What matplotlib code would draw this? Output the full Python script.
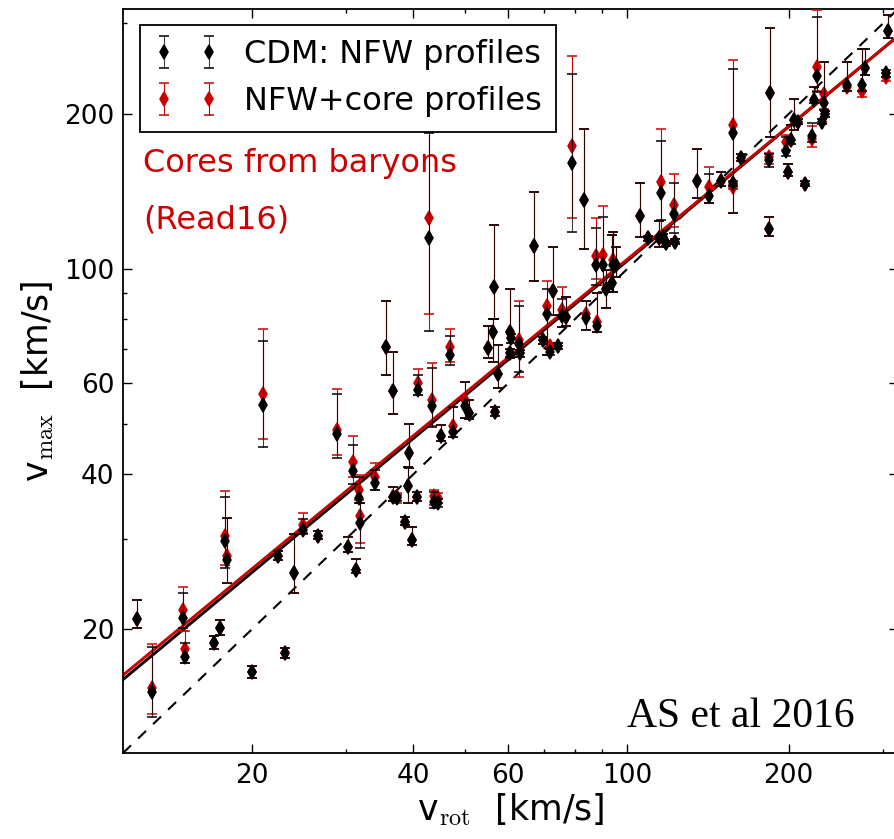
import numpy as np
import matplotlib
matplotlib.use('Agg')
import matplotlib.pyplot as plt
from matplotlib.ticker import FixedLocator, FixedFormatter, NullFormatter

plt.rcParams['font.family'] = ['DejaVu Sans']
plt.rcParams['mathtext.fontset'] = 'cm'

# ---------------- data ----------------
v_rot = [12.2, 13.0, 14.9, 15.0, 17.0, 17.4, 17.8, 18.0, 20.0, 21.0,
         22.4, 23.0, 24.0, 24.9, 26.5, 28.8, 30.2, 30.8, 31.2, 31.6,
         31.8, 33.9, 35.6, 36.7, 36.7, 37.2, 38.5, 39.1, 39.2, 39.7,
         40.6, 40.8, 42.7, 43.4, 43.7, 44.4, 45.1, 46.8, 47.4, 49.9,
         50.8, 56.6, 56.3, 55.1, 56.7, 57.5, 60.5, 60.7, 60.6, 62.9,
         63.1, 67.0, 69.7, 70.8, 71.8, 72.8, 74.4, 75.5, 76.9, 79.0,
         83.0, 83.8, 87.9, 87.7, 90.2, 91.5, 93.9, 94.2, 95.2, 105.8,
         109.4, 114.8, 115.8, 116.5, 118.4, 122.1, 122.7, 135.0, 142.1, 149.4,
         157.3, 157.3, 163.3, 183.6, 184.4, 184.0, 198.0, 199.4, 202.3, 204.4,
         208.2, 214.3, 221.6, 223.0, 226.5, 230.8, 233.4, 234.4, 256.8, 274.4,
         277.7, 303.3, 306.2]

vmax_cdm = [20.9, 15.1, 21.0, 17.7, 18.8, 20.1, 29.7, 27.3, 16.5, 54.6,
            27.8, 18.0, 25.7, 31.1, 30.4, 47.8, 28.9, 40.5, 26.1, 35.9,
            32.1, 38.5, 70.7, 58.0, 36.1, 35.9, 32.3, 38.0, 44.0, 29.8,
            36.1, 58.2, 114.7, 54.2, 35.3, 35.1, 47.4, 68.1, 48.3, 54.2,
            52.5, 92.2, 75.6, 70.3, 52.8, 62.5, 75.6, 73.4, 68.7, 71.7,
            68.6, 110.7, 72.8, 82.0, 69.0, 90.9, 70.9, 81.2, 80.8, 161.1,
            136.5, 80.3, 77.6, 101.8, 101.8, 91.7, 93.8, 101.8, 101.8, 127.0,
            114.7, 114.7, 140.3, 115.6, 112.2, 127.9, 113.0, 148.2, 138.8, 148.4,
            183.5, 146.7, 164.4, 162.8, 219.5, 119.6, 169.5, 154.5, 178.0, 194.7,
            193.2, 146.6, 181.5, 213.0, 237.1, 193.4, 209.8, 199.7, 228.2, 228.3,
            245.4, 239.9, 289.9]

cdm_lo = [20.1, 13.5, 20.1, 17.2, 18.3, 19.5, 26.3, 24.6, 16.1, 45.2,
          27.2, 17.6, 23.5, 30.6, 29.9, 43.0, 28.3, 38.2, 25.7, 35.1,
          28.7, 37.2, 62.2, 52.3, 35.5, 35.4, 31.8, 35.2, 41.2, 29.1,
          35.5, 56.9, 75.8, 49.4, 34.4, 34.5, 46.3, 65.1, 47.2, 51.3,
          51.2, 80.0, 66.1, 67.1, 51.8, 58.9, 67.2, 72.0, 67.5, 63.2,
          67.5, 95.0, 71.5, 68.1, 68.0, 81.4, 70.0, 77.3, 77.5, 118.2,
          109.2, 76.1, 75.6, 93.1, 90.4, 83.9, 90.4, 90.4, 96.6, 115.6,
          113.5, 110.5, 124.5, 114.5, 111.0, 117.6, 112.0, 137.2, 134.2, 144.9,
          128.6, 145.0, 162.5, 158.0, 180.7, 116.0, 166.0, 152.0, 175.0, 186.2,
          191.0, 145.0, 176.2, 209.8, 220.6, 191.0, 203.6, 197.0, 221.6, 222.0,
          237.7, 236.0, 280.6]

cdm_hi = [22.8, 18.5, 23.5, 18.8, 19.4, 20.8, 36.1, 32.9, 17.0, 72.6,
          28.4, 18.4, 30.6, 32.8, 31.0, 57.2, 30.2, 45.5, 27.4, 39.5,
          35.2, 40.7, 86.7, 69.2, 37.8, 36.5, 33.0, 41.3, 50.0, 31.6,
          36.9, 62.2, 183.7, 64.2, 36.9, 35.8, 49.8, 74.1, 54.0, 60.3,
          55.7, 121.7, 80.0, 77.5, 54.0, 71.4, 91.7, 75.0, 70.0, 84.8,
          69.8, 141.3, 74.0, 91.7, 70.0, 110.2, 72.0, 87.4, 88.4, 239.8,
          186.8, 86.8, 89.8, 120.0, 126.4, 99.6, 116.4, 118.2, 110.5, 147.2,
          116.0, 124.1, 177.5, 117.0, 113.5, 146.7, 114.3, 171.0, 152.9, 154.5,
          244.2, 148.5, 167.0, 167.0, 294.4, 126.2, 180.7, 159.7, 190.4, 213.9,
          195.5, 148.5, 192.1, 226.0, 309.0, 196.0, 252.0, 202.5, 252.0, 267.2,
          267.2, 244.0, 311.4]

vmax_core = [20.9, 15.4, 21.8, 18.3, 18.8, 20.1, 30.4, 27.7, 16.5, 57.2,
             27.8, 18.0, 25.7, 31.9, 30.4, 48.8, 28.9, 42.3, 26.1, 37.2,
             33.2, 39.5, 70.7, 58.0, 36.1, 36.1, 32.3, 38.0, 44.0, 29.8,
             36.1, 60.0, 125.5, 55.7, 36.2, 36.0, 47.4, 70.7, 49.6, 55.7,
             52.5, 92.2, 75.6, 70.3, 52.8, 62.5, 75.6, 73.4, 68.7, 72.8,
             68.6, 110.7, 72.8, 84.8, 71.0, 90.9, 70.9, 83.3, 80.8, 173.6,
             136.5, 82.0, 79.0, 106.0, 106.5, 91.7, 93.8, 104.3, 101.8, 127.0,
             114.7, 114.7, 147.4, 115.6, 112.2, 133.1, 113.0, 148.2, 144.1, 148.4,
             190.4, 144.5, 164.4, 165.3, 219.5, 119.6, 176.2, 154.5, 178.0, 194.7,
             193.2, 146.6, 179.0, 213.0, 247.2, 193.4, 218.4, 199.7, 226.0, 221.6,
             245.4, 236.0, 289.9]

core_lo = [20.1, 13.7, 19.8, 17.2, 18.3, 19.5, 26.7, 24.6, 16.1, 46.8,
           27.2, 17.6, 23.5, 30.8, 29.9, 43.5, 28.3, 39.5, 25.7, 35.6,
           29.4, 37.2, 62.2, 52.3, 35.5, 35.2, 31.8, 35.2, 41.2, 29.1,
           35.5, 56.9, 82.0, 49.6, 34.8, 35.2, 46.3, 65.9, 47.2, 51.3,
           51.2, 80.0, 66.1, 67.1, 51.8, 58.9, 67.2, 72.0, 67.5, 61.8,
           67.5, 95.0, 71.5, 68.1, 70.0, 81.4, 70.0, 77.3, 77.5, 125.5,
           109.2, 76.1, 75.6, 95.5, 93.1, 83.9, 90.4, 90.4, 96.6, 115.6,
           113.5, 110.5, 115.6, 114.5, 111.0, 120.8, 112.0, 137.2, 134.2, 144.9,
           128.6, 143.0, 162.5, 160.0, 180.7, 116.0, 170.0, 152.0, 175.0, 186.2,
           191.0, 145.0, 173.0, 209.8, 222.0, 191.0, 205.0, 197.0, 221.6, 216.0,
           237.7, 232.0, 280.6]

core_hi = [22.8, 18.7, 24.2, 19.8, 19.4, 20.8, 37.1, 32.9, 17.0, 76.4,
           28.4, 18.4, 30.6, 33.6, 31.0, 58.4, 30.2, 47.4, 27.4, 39.8,
           35.2, 42.0, 86.7, 69.2, 37.8, 36.8, 33.0, 41.3, 50.0, 31.6,
           36.9, 63.9, 186.0, 65.6, 37.2, 36.8, 49.8, 76.4, 54.0, 60.3,
           55.7, 121.7, 80.0, 77.5, 54.0, 71.4, 91.7, 75.0, 70.0, 86.8,
           69.8, 141.3, 74.0, 94.9, 72.0, 110.2, 72.0, 92.2, 88.4, 259.6,
           186.8, 86.8, 89.8, 125.5, 132.5, 99.6, 116.4, 118.2, 110.5, 147.2,
           116.0, 124.1, 186.8, 117.0, 113.5, 152.9, 114.3, 171.0, 158.0, 154.5,
           254.7, 146.0, 167.0, 168.0, 294.4, 126.2, 182.0, 159.7, 190.4, 213.9,
           195.5, 148.5, 190.0, 226.0, 318.4, 196.0, 252.0, 202.5, 252.0, 267.2,
           267.2, 240.0, 311.4]

# power-law fits: vmax = amp * (v_rot / 100) ** slope
fit_cdm_amp, fit_cdm_slope = 103.7, 0.865
fit_core_amp, fit_core_slope = 104.4, 0.859

axis_limits = (11.5, 320.0)
major_ticks = [20, 40, 60, 100, 200]
major_labels = ['20', '40', '60', '100', '200']
minor_ticks = [30, 50, 70, 80, 90, 300]

labels = ['CDM: NFW profiles', 'NFW+core profiles']
RED = '#cc0000'

# ---------------- figure ----------------
fig = plt.figure(figsize=(8.94, 8.39), dpi=100)
ax = fig.add_axes([0.1376, 0.1025, 0.8669, 0.8868])
ax.set_xscale('log')
ax.set_yscale('log')

xx = np.geomspace(axis_limits[0], axis_limits[1], 300)
ax.plot(xx, xx, color='k', lw=1.5, ls=(0, (5.3, 4.7)), zorder=1)
ax.plot(xx, fit_cdm_amp * (xx / 100.0) ** fit_cdm_slope, color='k', lw=2.1, zorder=2)
ax.plot(xx, fit_core_amp * (xx / 100.0) ** fit_core_slope, color=RED, lw=2.1, zorder=2)

vr = np.array(v_rot)
yc = np.array(vmax_core)
yb = np.array(vmax_cdm)
err_core = [yc - np.array(core_lo), np.array(core_hi) - yc]
err_cdm = [yb - np.array(cdm_lo), np.array(cdm_hi) - yb]

h_core = ax.errorbar(vr, yc, yerr=err_core, fmt='d', color=RED, ms=7.5,
                     mec=RED, mew=1.1, ecolor=RED, elinewidth=0.8,
                     capsize=3.8, capthick=0.8, zorder=3)
h_cdm = ax.errorbar(vr, yb, yerr=err_cdm, fmt='d', color='k', ms=7.5,
                    mec='k', mew=1.1, ecolor='k', elinewidth=0.8,
                    capsize=3.8, capthick=0.8, zorder=4)
for bar in h_cdm[2]:
    bar.set_alpha(0.75)

ax.set_xlim(axis_limits)
ax.set_ylim(axis_limits)

for axis in (ax.xaxis, ax.yaxis):
    axis.set_major_locator(FixedLocator(major_ticks))
    axis.set_major_formatter(FixedFormatter(major_labels))
    axis.set_minor_locator(FixedLocator(minor_ticks))
    axis.set_minor_formatter(NullFormatter())

ax.tick_params(which='both', direction='in', top=True, right=True, width=1.0)
ax.tick_params(which='major', length=6.5, labelsize=19)
ax.tick_params(axis='x', which='major', pad=7)
ax.tick_params(axis='y', which='major', pad=6)
ax.tick_params(which='minor', length=3.2)
for sp in ax.spines.values():
    sp.set_linewidth(1.3)

ax.set_xlabel(r'v$_{\rm rot}$  [km/s]', fontsize=25, labelpad=2)
ax.set_ylabel(r'v$_{\rm max}$  [km/s]', fontsize=25, labelpad=6)

leg = ax.legend([h_cdm, h_core], labels, loc='upper left',
                bbox_to_anchor=(0.0219, 0.9785), borderaxespad=0,
                numpoints=2, fontsize=23, fancybox=False, framealpha=1,
                edgecolor='k', borderpad=0.45)
leg.get_frame().set_linewidth(1.3)

ax.text(0.0258, 0.7809, 'Cores from baryons', color=RED, fontsize=23,
        transform=ax.transAxes, ha='left', va='baseline')
ax.text(0.0258, 0.7056, '(Read16)', color=RED, fontsize=23,
        transform=ax.transAxes, ha='left', va='baseline')
ax.text(0.6503, 0.0349, 'AS et al 2016', family='Liberation Serif',
        fontsize=30, transform=ax.transAxes, ha='left', va='baseline')

fig.savefig('out.png', dpi=100)
